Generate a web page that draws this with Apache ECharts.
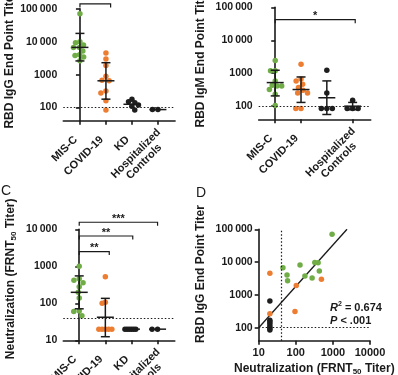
<!DOCTYPE html>
<html>
<head>
<meta charset="utf-8">
<script src="https://cdn.jsdelivr.net/npm/echarts@6.0.0/dist/echarts.min.js"></script>
<style>
  html, body { margin: 0; padding: 0; background: #fff; }
  #main { width: 398px; height: 375px; }
</style>
</head>
<body>
<div id="main"></div>
<script>
// groups on the x axis of panels A-C
var groups = ['MIS-C', 'COVID-19', 'KD', 'Hospitalized\nControls'];
var groupColors = ['#70AD47', '#ED7D31', '#1e1e1e', '#1e1e1e'];

// A: RBD IgG end point titer, one list per group
var iggTiters = [
  [70000, 10000, 9300, 7900, 6700, 6600, 5200, 4000, 3800, 3400, 2650],
  [4500, 3000, 1900, 890, 680, 650, 320, 275, 160, 85],
  [180, 150, 140, 120, 110, 85],
  [87, 87]
];
// geometric mean, lower and upper SD
var iggMeanSd = [[6700, 2600, 17800], [650, 180, 2300], [126, 126, 126], [87, 87, 87]];

// B: RBD IgM end point titer
var igmTiters = [
  [2430, 1180, 1180, 585, 435, 410, 410, 320, 230, 105],
  [1870, 670, 585, 465, 370, 305, 253, 253, 85, 85],
  [1230, 253, 85, 85, 85],
  [152, 85, 85, 85]
];
var igmMeanSd = [[520, 205, 1230], [320, 130, 770], [180, 56, 585], [100, 78, 130]];

// C: neutralization (FRNT50 titer)
var frntTiters = [
  [1000, 460, 420, 360, 280, 200, 140, 62, 60, 46],
  [520, 107, 100, 20, 20, 20, 20, 20],
  [20, 20, 20, 20, 20, 20],
  [20, 20]
];
var frntMeanSd = [[198, 71, 550], [42, 12.5, 136], [20, 20, 20], [20, 20, 20]];

// D: neutralization titer vs IgG titer
var dMisC = [[950, 71000], [45, 6700], [130, 8100], [325, 9800], [400, 9600], [58, 4050],
             [430, 5400], [60, 2700], [176, 3800], [275, 3300]];
var dCovid = [[20, 4600], [490, 3000], [103, 1950], [95, 315], [20, 265]];
var dOther = [[20, 650], [20, 170], [20, 150], [20, 130], [20, 110], [20, 95], [20, 85]];
var fitLine = [[10, 100], [2400, 100000]];

var titerTicks = [100, 1000, 10000, 100000];
var frntTicks = [10, 100, 1000, 10000];
var iggCutoff = 100, igmCutoff = 100, frntCutoff = 40;

// significance brackets: [from group, to group, titer level]
var iggBrackets = [[0, 1.18, 140000]], iggStars = ['****'];
var igmBrackets = [[0, 3.1, 42000]], igmStars = ['*'];
var frntBrackets = [[0, 1.15, 2500], [0, 2.05, 6600], [0, 3, 15500]], frntStars = ['**', '**', '***'];

var font = '"Liberation Sans", Arial, sans-serif';
var ink = '#1a1a1a';
var dotSize = 5.5;

var panels = [
  {box: {left: 63.3, top: 8.7, width: 111.8, height: 112}, xRange: [-0.64, 3.66], yRange: [40, 100000],
   yTicks: titerTicks, name: 'RBD IgG End Point Titer', nameGap: 48, nameShift: 10,
   titers: iggTiters, stats: iggMeanSd, cutoff: iggCutoff, brackets: iggBrackets, stars: iggStars},
  {box: {left: 258.7, top: 7.3, width: 112, height: 112}, xRange: [-0.64, 3.7], yRange: [40, 100000],
   yTicks: titerTicks, name: 'RBD IgM End Point Titer', nameGap: 52.5, nameShift: 10,
   titers: igmTiters, stats: igmMeanSd, cutoff: igmCutoff, brackets: igmBrackets, stars: igmStars},
  {box: {left: 63.3, top: 229.3, width: 111.5, height: 111}, xRange: [-0.61, 3.66], yRange: [10, 10000],
   yTicks: frntTicks, name: 'Neutralization (FRNT{s|50} Titer)', nameGap: 46, nameShift: 12,
   titers: frntTiters, stats: frntMeanSd, cutoff: frntCutoff, brackets: frntBrackets, stars: frntStars},
  {box: {left: 258.7, top: 229.3, width: 111.3, height: 111.5}, yRange: [40, 100000],
   yTicks: titerTicks, name: 'RBD IgG End Point Titer', nameGap: 52.5, nameShift: 22}
];

function titerLabel(v) {
  var s = String(Math.round(v));
  return v >= 10000 ? s.slice(0, -3) + '\u2009' + s.slice(-3) : s;
}

var lineStyle = {color: ink, width: 1.6};
var tickFont = {color: ink, fontFamily: font, fontWeight: 'bold', fontSize: 10.5};
var nameFont = {color: ink, fontFamily: font, fontWeight: 'bold', fontSize: 12};
var subStyle = {fontFamily: font, fontWeight: 'bold', fontSize: 8, color: ink, padding: [6, 0, 0, 0]};
var catFont = {fontFamily: font, fontWeight: 'bold', fontSize: 11, color: ink};

function groupAxis(p, k) {
  var hosp = groups[3].split('\n');
  return {
    type: 'value', gridIndex: k, min: p.xRange[0], max: p.xRange[1],
    axisLine: {show: true, lineStyle: lineStyle},
    axisTick: {show: true, length: 4, lineStyle: lineStyle, customValues: [0, 1, 2, 3]},
    splitLine: {show: false},
    axisLabel: Object.assign({}, catFont, {
      rotate: 45, margin: 13, hideOverlap: false, showMinLabel: true, showMaxLabel: true,
      customValues: [0, 1, 2, 3.15],
      formatter: function (v) {
        if (v > 2.5) return '{h|' + hosp[0] + '}\n{c|' + hosp[1] + '}';
        return '{g|' + groups[Math.round(v)] + '}';
      },
      rich: {
        g: Object.assign({padding: [0, 6, 0, 0]}, catFont),
        h: Object.assign({lineHeight: 14.5, padding: [6, 0, 0, 0]}, catFont),
        c: Object.assign({lineHeight: 14.5, align: 'center'}, catFont)
      }
    })
  };
}

function titerAxis(p, k) {
  return {
    type: 'log', logBase: 10, gridIndex: k, min: p.yRange[0], max: p.yRange[1],
    name: p.name, nameLocation: 'middle', nameGap: p.nameGap, nameMoveOverlap: false,
    nameTextStyle: Object.assign({}, nameFont, {padding: [0, 0, 0, p.nameShift], rich: {s: subStyle}}),
    axisLine: {show: true, lineStyle: lineStyle},
    axisTick: {show: true, length: 4, lineStyle: lineStyle, customValues: p.yTicks},
    splitLine: {show: false},
    axisLabel: Object.assign({}, tickFont, {margin: 6, customValues: p.yTicks, formatter: titerLabel})
  };
}

var xAxes = panels.slice(0, 3).map(groupAxis);
xAxes.push({
  type: 'log', logBase: 10, gridIndex: 3, min: 10, max: 10000,
  name: 'Neutralization (FRNT{s|50} Titer)', nameLocation: 'middle', nameGap: 21, nameMoveOverlap: false,
  nameTextStyle: Object.assign({}, nameFont, {rich: {s: subStyle}}),
  axisLine: {show: true, lineStyle: lineStyle},
  axisTick: {show: true, length: 4, lineStyle: lineStyle, customValues: frntTicks},
  splitLine: {show: false},
  axisLabel: Object.assign({}, tickFont, {fontSize: 11, margin: 7, customValues: frntTicks,
    formatter: function (v) { return String(Math.round(v)); }})
});

function renderErrorBar(params, api) {
  var x = api.value(0);
  var mid = api.coord([x, api.value(1)]);
  var lo = api.coord([x, api.value(2)]);
  var hi = api.coord([x, api.value(3)]);
  var st = {stroke: ink, lineWidth: 1.5, fill: null};
  var kids = [{type: 'line', shape: {x1: mid[0] - 8.5, y1: mid[1], x2: mid[0] + 8.5, y2: mid[1]}, style: st}];
  if (lo[1] - hi[1] > 1) {
    kids.push({type: 'line', shape: {x1: mid[0], y1: hi[1], x2: mid[0], y2: lo[1]}, style: st});
    kids.push({type: 'line', shape: {x1: mid[0] - 4.5, y1: hi[1], x2: mid[0] + 4.5, y2: hi[1]}, style: st});
    kids.push({type: 'line', shape: {x1: mid[0] - 4.5, y1: lo[1], x2: mid[0] + 4.5, y2: lo[1]}, style: st});
  }
  return {type: 'group', children: kids};
}

function bracketRenderer(stars) {
  return function (params, api) {
    var a = api.coord([api.value(0), api.value(2)]);
    var b = api.coord([api.value(1), api.value(2)]);
    return {type: 'group', children: [
      {type: 'polyline', shape: {points: [[a[0], a[1] + 3.5], [a[0], a[1]], [b[0], b[1]], [b[0], b[1] + 3.5]]},
       style: {stroke: ink, lineWidth: 1.2, fill: null}},
      {type: 'text', x: (a[0] + b[0]) / 2, y: a[1] + 2,
       style: {text: stars[params.dataIndex], fill: ink, font: 'bold 11px ' + font, align: 'center', verticalAlign: 'bottom'}}
    ]};
  };
}

function cutoffLine(data) {
  return {silent: true, symbol: 'none', label: {show: false},
          lineStyle: {type: [1.5, 2], color: ink, width: 1.2}, data: data};
}

var series = [];
panels.slice(0, 3).forEach(function (p, k) {
  p.titers.forEach(function (vals, g) {
    var s = {
      id: 'dots-' + k + '-' + g, type: 'scatter', xAxisIndex: k, yAxisIndex: k,
      symbolSize: dotSize, itemStyle: {color: groupColors[g], opacity: 1},
      data: vals.map(function (v) { return [g, v]; })
    };
    if (g === 0) s.markLine = cutoffLine([{yAxis: p.cutoff}]);
    series.push(s);
  });
  series.push({
    type: 'custom', xAxisIndex: k, yAxisIndex: k, z: 5, renderItem: renderErrorBar,
    encode: {x: 0, y: [1, 2, 3]},
    data: p.stats.map(function (s, g) { return [g, s[0], s[1], s[2]]; })
  });
  series.push({
    type: 'custom', xAxisIndex: k, yAxisIndex: k, clip: false, renderItem: bracketRenderer(p.stars),
    encode: {x: [0, 1], y: 2}, data: p.brackets
  });
});

[[dMisC, groupColors[0]], [dCovid, groupColors[1]], [dOther, groupColors[2]]].forEach(function (d, i) {
  var s = {type: 'scatter', xAxisIndex: 3, yAxisIndex: 3, symbolSize: dotSize,
           itemStyle: {color: d[1], opacity: 1}, data: d[0]};
  if (i === 0) s.markLine = cutoffLine([{xAxis: frntCutoff}, {yAxis: iggCutoff}]);
  series.push(s);
});
series.push({type: 'line', xAxisIndex: 3, yAxisIndex: 3, data: fitLine, symbol: 'none',
             lineStyle: {color: ink, width: 1.3}, z: 1});

var chart = echarts.init(document.getElementById('main'));
chart.setOption({
  animation: false,
  backgroundColor: '#fff',
  textStyle: {fontFamily: font},
  grid: panels.map(function (p) {
    return Object.assign({outerBoundsMode: 'none', containLabel: false}, p.box);
  }),
  xAxis: xAxes,
  yAxis: panels.map(titerAxis),
  graphic: [
    {type: 'text', left: 1, top: 184, style: {text: 'C', font: '14px ' + font, fill: ink}},
    {type: 'text', left: 196, top: 186, style: {text: 'D', font: '14px ' + font, fill: ink}},
    {type: 'text', left: 330, top: 301, style: {
      text: '{i|R}{u|2}{t| = 0.674}\n{i|P}{t| < .001}',
      rich: {
        i: {font: 'italic bold 11px ' + font, fill: ink, lineHeight: 13},
        u: {font: 'bold 7px ' + font, fill: ink, padding: [0, 0, 6, 0]},
        t: {font: 'bold 11px ' + font, fill: ink, lineHeight: 13}
      }
    }}
  ],
  series: series
});

// spread the dots of each group sideways (beeswarm) in pixel space
function swarm(ys, d, maxHalf) {
  var order = ys.map(function (y, i) { return i; }).sort(function (a, b) { return ys[a] - ys[b]; });
  var xs = new Array(ys.length), placed = [];
  order.forEach(function (i) {
    var y = ys[i], cands = [0], bad = [];
    placed.forEach(function (q) {
      var dy = Math.abs(q.y - y);
      if (dy < d) {
        var w = Math.sqrt(d * d - dy * dy);
        bad.push([q.x - w, q.x + w]);
        cands.push(q.x - w, q.x + w);
      }
    });
    cands.sort(function (a, b) { return Math.abs(a) - Math.abs(b); });
    var x = cands.filter(function (c) {
      return bad.every(function (r) { return c <= r[0] + 1e-6 || c >= r[1] - 1e-6; });
    })[0];
    xs[i] = x;
    placed.push({x: x, y: y});
  });
  var m = Math.max.apply(null, xs.map(Math.abs));
  if (m > maxHalf) xs = xs.map(function (x) { return x * maxHalf / m; });
  return xs;
}

var updates = [];
panels.slice(0, 3).forEach(function (p, k) {
  var finder = {gridIndex: k};
  var unit = chart.convertToPixel(finder, [1, 100])[0] - chart.convertToPixel(finder, [0, 100])[0];
  p.titers.forEach(function (vals, g) {
    var ys = vals.map(function (v) { return chart.convertToPixel(finder, [g, v])[1]; });
    var offs = swarm(ys, 5.5, 6.5);
    updates.push({id: 'dots-' + k + '-' + g, data: vals.map(function (v, i) { return [g + offs[i] / unit, v]; })});
  });
});
chart.setOption({series: updates});
</script>
</body>
</html>
